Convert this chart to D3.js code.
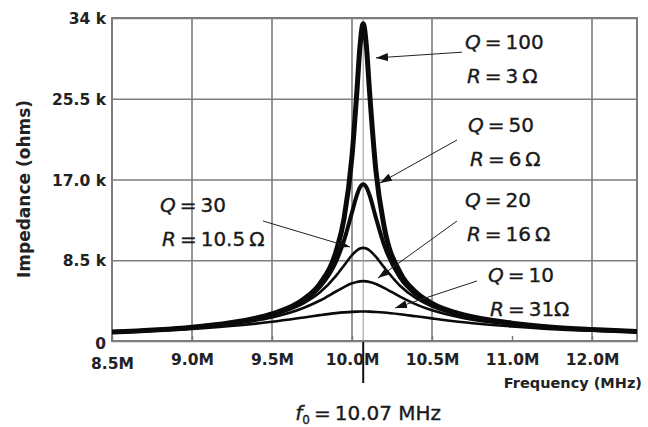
<!DOCTYPE html>
<html>
<head>
<meta charset="utf-8">
<script src="https://cdn.jsdelivr.net/npm/d3@7"></script>
<style>
  body { margin: 0; background: #fff; }
  svg { display: block; }
</style>
</head>
<body>
<div id="chart"></div>
<script>
// frequency samples (MHz) and impedance (k ohms)
const freqs = [8.5, 9.0, 9.3, 9.5, 9.7, 9.8, 9.9, 9.95, 10.0, 10.03, 10.05, 10.07, 10.09, 10.11, 10.15, 10.2, 10.3, 10.4, 10.5, 10.7, 11.0, 11.5, 12.0, 12.56];
const q100 = [0.95, 1.45, 2.08, 2.85, 4.42, 6.04, 9.41, 12.85, 19.46, 26.13, 31.03, 33.4, 31.03, 26.17, 17.84, 12.13, 7.22, 5.12, 3.96, 2.74, 1.88, 1.45, 1.2, 1.0];
const q50 = [0.94, 1.46, 2.06, 2.79, 4.26, 5.70, 8.36, 10.57, 13.54, 15.33, 16.18, 16.5, 16.18, 15.34, 12.94, 10.14, 6.68, 4.89, 3.84, 2.68, 1.85, 1.43, 1.18, 0.99];
const q30 = [0.93, 1.42, 2.0, 2.69, 3.99, 5.12, 6.86, 7.95, 9.04, 9.53, 9.73, 9.8, 9.73, 9.53, 8.85, 7.77, 5.82, 4.50, 3.63, 2.59, 1.81, 1.40, 1.16, 0.98];
const q20 = [0.9, 1.36, 1.89, 2.48, 3.50, 4.26, 5.21, 5.68, 6.07, 6.22, 6.28, 6.3, 6.28, 6.22, 6.0, 5.6, 4.67, 3.86, 3.23, 2.40, 1.71, 1.35, 1.14, 0.97];
const q10 = [0.86, 1.26, 1.65, 2.02, 2.48, 2.72, 2.93, 3.01, 3.07, 3.09, 3.1, 3.1, 3.1, 3.09, 3.06, 3.0, 2.82, 2.6, 2.38, 1.97, 1.53, 1.25, 1.08, 0.94];

const qValues = ["100", "50", "30", "20", "10"];
const rValues = ["3\u2009Ω", "6\u2009Ω", "10.5\u2009Ω", "16\u2009Ω", "31Ω"];

const xTicks = [8.5, 9.0, 9.5, 10.0, 10.5, 11.0, 12.0];
const xTickLabels = ["8.5M", "9.0M", "9.5M", "10.0M", "10.5M", "11.0M", "12.0M"];
const xGrid = [9.0, 9.5, 10.0, 10.5, 12.0];
const yTicks = [0, 8.5, 17.0, 25.5, 34];
const yTickLabels = ["0", "8.5 k", "17.0 k", "25.5 k", "34 k"];
const f0 = 10.07;

const curves = [q100, q50, q30, q20, q10];
const lineWidths = [5, 4, 2.6, 2.6, 2.6];

// label anchor (f, kohm), arrow start and arrow tip in data units
const notes = [
  { tf: 10.706, tv: 30.74, sf: 10.6875, sv: 30.4, ef: 10.15, ev: 29.8 },
  { tf: 10.725, tv: 22.0, sf: 10.656, sv: 21.16, ef: 10.175, ev: 16.63 },
  { tf: 8.80, tv: 13.58, sf: 9.444, sv: 12.63, ef: 9.9875, ev: 9.89 },
  { tf: 10.706, tv: 14.1, sf: 10.656, sv: 12.63, ef: 10.1625, ev: 6.63 },
  { tf: 10.85, tv: 6.21, sf: 10.781, sv: 6.32, ef: 10.269, ev: 3.47 }
];

const width = 648, height = 427;
const plotL = 112, plotR = 637, plotT = 18, plotB = 341;
const font = "'DejaVu Sans', Verdana, sans-serif";

const x = d3.scaleLinear().domain([8.5, 11, 12]).range([plotL, 512, 592]);
const y = d3.scaleLinear().domain([0, 34]).range([plotB, plotT]);

const svg = d3.select("#chart").append("svg")
  .attr("width", width)
  .attr("height", height);

svg.append("defs").append("marker")
  .attr("id", "arrow")
  .attr("viewBox", "0 0 12 8")
  .attr("refX", 12)
  .attr("refY", 4)
  .attr("markerWidth", 12)
  .attr("markerHeight", 8)
  .attr("markerUnits", "userSpaceOnUse")
  .attr("orient", "auto")
  .append("path")
  .attr("d", "M0,0 L12,4 L0,8 Z")
  .attr("fill", "#111");

// horizontal gridlines + labels
const yAxis = svg.append("g")
  .attr("transform", `translate(${plotL},0)`)
  .call(d3.axisLeft(y).tickValues(yTicks).tickFormat((d, i) => yTickLabels[i])
    .tickSize(-(plotR - plotL)).tickPadding(6));
yAxis.select(".domain").remove();
yAxis.selectAll(".tick line").attr("stroke", "#7d7d7d").attr("stroke-width", 1.6);
yAxis.selectAll(".tick text")
  .attr("fill", "#222")
  .style("font", `700 15.5px ${font}`)
  .attr("dy", "0.36em");
yAxis.selectAll(".tick text").filter(d => d === 0).attr("dy", "0.5em");

// vertical gridlines
svg.append("g")
  .selectAll("line")
  .data(xGrid)
  .join("line")
  .attr("x1", d => x(d)).attr("x2", d => x(d))
  .attr("y1", plotT).attr("y2", plotB)
  .attr("stroke", "#7d7d7d")
  .attr("stroke-width", 1.6);

// f0 marker
svg.append("line")
  .attr("x1", x(f0)).attr("x2", x(f0))
  .attr("y1", plotT).attr("y2", plotB)
  .attr("stroke", "#a8a8a8")
  .attr("stroke-width", 1.2);
svg.append("line")
  .attr("x1", x(f0)).attr("x2", x(f0))
  .attr("y1", plotB).attr("y2", plotB + 42)
  .attr("stroke", "#111")
  .attr("stroke-width", 2);

// frame
svg.append("rect")
  .attr("x", plotL).attr("y", plotT)
  .attr("width", plotR - plotL).attr("height", plotB - plotT)
  .attr("fill", "none")
  .attr("stroke", "#7d7d7d")
  .attr("stroke-width", 2);

// x axis
const xAxis = svg.append("g")
  .attr("transform", `translate(0,${plotB})`)
  .call(d3.axisBottom(x).tickValues(xTicks).tickFormat((d, i) => xTickLabels[i])
    .tickSizeInner(-5).tickSizeOuter(0));
xAxis.select(".domain").remove();
xAxis.selectAll(".tick line").attr("stroke", "#777").attr("stroke-width", 1.4);
xAxis.selectAll(".tick text")
  .attr("fill", "#222")
  .style("font", `700 15.5px ${font}`)
  .attr("dy", null)
  .attr("y", d => d === 8.5 ? 28 : 24);

// curves
const line = d3.line()
  .x((d, i) => x(freqs[i]))
  .y(d => y(d))
  .curve(d3.curveMonotoneX);

svg.append("g")
  .selectAll("path")
  .data(curves)
  .join("path")
  .attr("d", d => line(d))
  .attr("fill", "none")
  .attr("stroke", "#0a0a0a")
  .attr("stroke-width", (d, i) => lineWidths[i])
  .attr("stroke-linejoin", "round");

// leader arrows
svg.append("g")
  .selectAll("line")
  .data(notes)
  .join("line")
  .attr("x1", d => x(d.sf)).attr("y1", d => y(d.sv))
  .attr("x2", d => x(d.ef)).attr("y2", d => y(d.ev))
  .attr("stroke", "#222")
  .attr("stroke-width", 1)
  .attr("marker-end", "url(#arrow)");

// Q / R labels
const labels = svg.append("g")
  .style("font", `400 20px ${font}`)
  .attr("fill", "#1a1a1a")
  .attr("stroke", "#1a1a1a")
  .attr("stroke-width", 0.35);

notes.forEach((n, i) => {
  const t1 = labels.append("text").attr("x", x(n.tf)).attr("y", y(n.tv));
  t1.append("tspan").attr("font-style", "italic").text("Q");
  t1.append("tspan").text("\u2009=\u2009" + qValues[i]);
  const t2 = labels.append("text").attr("x", x(n.tf) + 2).attr("y", y(n.tv) + 34);
  t2.append("tspan").attr("font-style", "italic").text("R");
  t2.append("tspan").text("\u2009=\u2009" + rValues[i]);
});

// axis titles
svg.append("text")
  .attr("transform", `translate(30,${(95 + 283) / 2}) rotate(-90)`)
  .attr("text-anchor", "middle")
  .attr("fill", "#222")
  .style("font", `700 17px ${font}`)
  .text("Impedance (ohms)");

svg.append("text")
  .attr("x", 642)
  .attr("y", 388)
  .attr("text-anchor", "end")
  .attr("fill", "#222")
  .style("font", `700 14.5px ${font}`)
  .text("Frequency (MHz)");

const f0Label = svg.append("text")
  .attr("x", x(f0) + 5)
  .attr("y", 420)
  .attr("text-anchor", "middle")
  .attr("fill", "#1a1a1a")
  .attr("stroke", "#1a1a1a")
  .attr("stroke-width", 0.35)
  .style("font", `400 20px ${font}`);
f0Label.append("tspan").attr("font-style", "italic").text("f");
f0Label.append("tspan").attr("font-size", "12px").attr("dy", 4).text("0");
f0Label.append("tspan").attr("dy", -4).text("\u2009=\u200910.07 MHz");
</script>
</body>
</html>
